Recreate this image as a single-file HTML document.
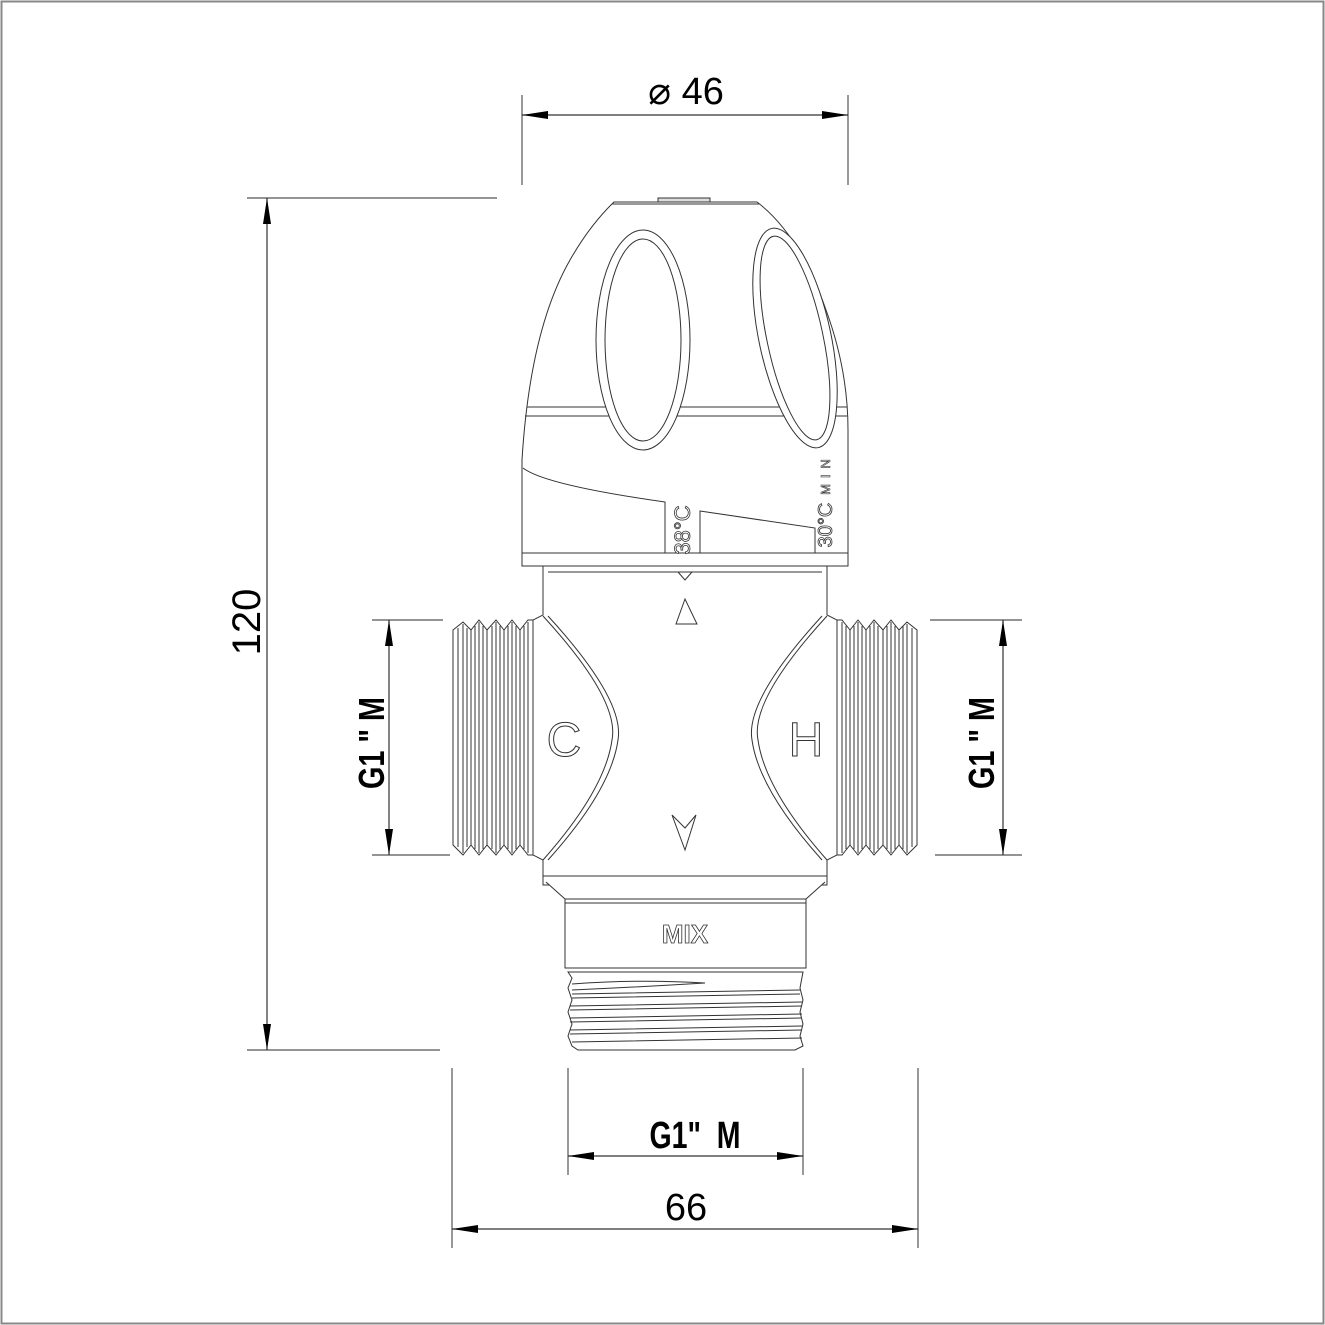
<!DOCTYPE html>
<html><head><meta charset="utf-8"><style>
html,body{margin:0;padding:0;background:#fff}
svg{display:block}
text{font-family:"Liberation Sans",sans-serif}
</style></head><body>
<svg width="1325" height="1325" viewBox="0 0 1325 1325" xmlns="http://www.w3.org/2000/svg">
<rect x="1.5" y="1.5" width="1322" height="1322" fill="#fff" stroke="#888" stroke-width="2"/>
<defs>
<marker id="a" viewBox="0 0 26 8" refX="26" refY="4" markerWidth="26" markerHeight="8" markerUnits="userSpaceOnUse" orient="auto-start-reverse"><path d="M0,0 L26,4 L0,8 Z" fill="#000"/></marker>
</defs>
<g stroke="#555" stroke-width="1.2" fill="none">
<line x1="522" y1="95" x2="522" y2="185"/><line x1="848" y1="95" x2="848" y2="185"/>
<line x1="247" y1="198" x2="497" y2="198"/><line x1="247" y1="1050" x2="440" y2="1050"/>
<line x1="372" y1="620" x2="443" y2="620"/><line x1="372" y1="855" x2="450" y2="855"/>
<line x1="930" y1="620" x2="1022" y2="620"/><line x1="935" y1="855" x2="1022" y2="855"/>
<line x1="568" y1="1068" x2="568" y2="1175"/><line x1="803" y1="1068" x2="803" y2="1175"/>
<line x1="452" y1="1068" x2="452" y2="1248"/><line x1="918" y1="1068" x2="918" y2="1248"/>
</g>
<g stroke="#333" stroke-width="1.2">
<line x1="522" y1="115" x2="848" y2="115" marker-start="url(#a)" marker-end="url(#a)"/>
<line x1="267" y1="198" x2="267" y2="1050" marker-start="url(#a)" marker-end="url(#a)"/>
<line x1="389" y1="620" x2="389" y2="855" marker-start="url(#a)" marker-end="url(#a)"/>
<line x1="1003" y1="620" x2="1003" y2="855" marker-start="url(#a)" marker-end="url(#a)"/>
<line x1="568" y1="1156" x2="803" y2="1156" marker-start="url(#a)" marker-end="url(#a)"/>
<line x1="452" y1="1229" x2="918" y2="1229" marker-start="url(#a)" marker-end="url(#a)"/>
</g>
<text x="686" y="104" font-size="38" text-anchor="middle">⌀ 46</text>
<text x="686" y="1220" font-size="38" text-anchor="middle">66</text>
<text transform="translate(260,622) rotate(-90)" font-size="40" text-anchor="middle">120</text>
<text transform="translate(695,1148) scale(0.75,1)" font-size="38" font-weight="bold" text-anchor="middle" xml:space="preserve">G1"  M</text>
<text transform="translate(384,743) rotate(-90) scale(0.8,1)" font-size="36" font-weight="bold" text-anchor="middle" xml:space="preserve">G1 " M</text>
<text transform="translate(994,743) rotate(-90) scale(0.8,1)" font-size="36" font-weight="bold" text-anchor="middle" xml:space="preserve">G1 " M</text>

<g stroke="#333" stroke-width="1" fill="none">
<path d="M614,202 L757,202 Q800,235 826,310 Q848,370 848,430 L848,566 L522,566 L522,460 Q530,330 570,260 Q590,225 614,202 Z" fill="#fff"/>
<line x1="612" y1="204" x2="759" y2="204"/>
<rect x="658" y="198" width="52" height="4" fill="#ddd"/>
<line x1="527" y1="407" x2="847" y2="407"/><line x1="525" y1="416" x2="847" y2="416"/>
<ellipse cx="643" cy="340" rx="47" ry="110" fill="#fff"/>
<ellipse cx="643" cy="340" rx="38" ry="101"/>
<ellipse cx="795" cy="338" rx="36" ry="112" transform="rotate(-12 795 338)" fill="#fff"/>
<ellipse cx="795" cy="338" rx="28" ry="104" transform="rotate(-12 795 338)"/>
<path d="M523,468 Q545,485 665,502 L665,553 L523,553"/>
<path d="M700,511 L815,528 L815,553 L700,553 Z"/>
<line x1="522" y1="553" x2="848" y2="553"/>
<path d="M543,566 L543,615 L533,620 L533,855 L543,860 L543,885 L827,885 L827,860 L837,855 L837,620 L827,615 L827,566 Z" fill="#fff"/>
<line x1="548" y1="572" x2="822" y2="572"/>
<path d="M678,572 L685,580 L692,572"/>
<line x1="543" y1="876" x2="827" y2="876"/>
<path d="M543,616 Q620,700 612,740 Q605,790 543,860"/>
<path d="M548,616 Q625,700 618,740 Q611,790 548,860"/>
<path d="M827,616 Q750,700 758,740 Q765,790 827,860"/>
<path d="M822,616 Q745,700 752,740 Q759,790 822,860"/>
<path d="M685,599 L676,624 L697,624 Z"/>
<path d="M672,815 L685,850 L696,815 L685,828 Z"/>
<path d="M546,882 L565,899 L565,968 L806,968 L806,899 L825,882" fill="#fff"/>
<line x1="565" y1="899" x2="806" y2="899"/><line x1="565" y1="903" x2="806" y2="903"/>
<path d="M568,972 L803,972 L800,988 L803,1000 L800,1012 L803,1024 L800,1036 L803,1046 L795,1050 L578,1050 L572,1046 L568,1036 L572,1024 L568,1012 L572,1000 L568,988 L572,978 Z" fill="#fff"/>
<path d="M572,984 Q640,979 705,983 Q640,987 572,990"/>
<path d="M572,994 L800,990 M570,1006 L802,1002 M570,1018 L802,1014 M570,1030 L802,1026 M572,1042 L802,1038"/>
<path d="M572,998 L800,994 M570,1010 L802,1006 M570,1022 L802,1018 M570,1034 L802,1030"/>
<path d="M533,620 L528,620 L520,630 L512,620 L504,630 L496,620 L487,630 L479,620 L471,630 L463,622 L453,630 L453,845 L463,855 L471,845 L479,855 L487,845 L496,855 L504,845 L512,855 L520,845 L528,855 L533,855 Z" fill="#fff"/>
<g>
<line x1="458" y1="628" x2="458" y2="847"/><line x1="463" y1="624" x2="463" y2="853"/>
<line x1="467" y1="628" x2="467" y2="847"/><line x1="471" y1="630" x2="471" y2="845"/>
<line x1="475" y1="626" x2="475" y2="849"/><line x1="479" y1="622" x2="479" y2="853"/>
<line x1="483" y1="626" x2="483" y2="849"/><line x1="487" y1="630" x2="487" y2="845"/>
<line x1="492" y1="626" x2="492" y2="849"/><line x1="496" y1="622" x2="496" y2="853"/>
<line x1="500" y1="626" x2="500" y2="849"/><line x1="504" y1="630" x2="504" y2="845"/>
<line x1="508" y1="626" x2="508" y2="849"/><line x1="512" y1="622" x2="512" y2="853"/>
<line x1="516" y1="626" x2="516" y2="849"/><line x1="520" y1="630" x2="520" y2="845"/>
<line x1="524" y1="626" x2="524" y2="849"/><line x1="528" y1="622" x2="528" y2="853"/>
</g>
<path d="M837,620 L842,620 L850,630 L858,620 L866,630 L874,620 L883,630 L891,620 L899,630 L907,622 L917,630 L917,845 L907,855 L899,845 L891,855 L883,845 L874,855 L866,845 L858,855 L850,845 L842,855 L837,855 Z" fill="#fff"/>
<g>
<line x1="842" y1="622" x2="842" y2="853"/><line x1="846" y1="626" x2="846" y2="849"/>
<line x1="850" y1="630" x2="850" y2="845"/><line x1="854" y1="626" x2="854" y2="849"/>
<line x1="858" y1="622" x2="858" y2="853"/><line x1="862" y1="626" x2="862" y2="849"/>
<line x1="866" y1="630" x2="866" y2="845"/><line x1="870" y1="626" x2="870" y2="849"/>
<line x1="874" y1="622" x2="874" y2="853"/><line x1="878" y1="626" x2="878" y2="849"/>
<line x1="883" y1="630" x2="883" y2="845"/><line x1="887" y1="626" x2="887" y2="849"/>
<line x1="891" y1="622" x2="891" y2="853"/><line x1="895" y1="626" x2="895" y2="849"/>
<line x1="899" y1="630" x2="899" y2="845"/><line x1="903" y1="626" x2="903" y2="849"/>
<line x1="907" y1="624" x2="907" y2="853"/><line x1="912" y1="628" x2="912" y2="847"/>
</g>
</g>
<g fill="#fff" stroke="#333" stroke-width="1">
<text x="564" y="756" font-size="48" text-anchor="middle">C</text>
<text x="806" y="756" font-size="48" text-anchor="middle">H</text>
<text x="685" y="943" font-size="26" font-weight="bold" text-anchor="middle" stroke-width="0.8">MIX</text>
</g>
<text transform="translate(690,530) rotate(-90)" font-size="22" fill="#fff" stroke="#333" stroke-width="0.8" text-anchor="middle">38°C</text>
<text transform="translate(832,525) rotate(-90)" font-size="20" fill="#fff" stroke="#333" stroke-width="0.8" text-anchor="middle">30°C</text>
<text transform="translate(830,474) rotate(-90)" font-size="13" fill="#fff" stroke="#333" stroke-width="0.6" text-anchor="middle" letter-spacing="6">MIN</text>
</svg>
</body></html>
